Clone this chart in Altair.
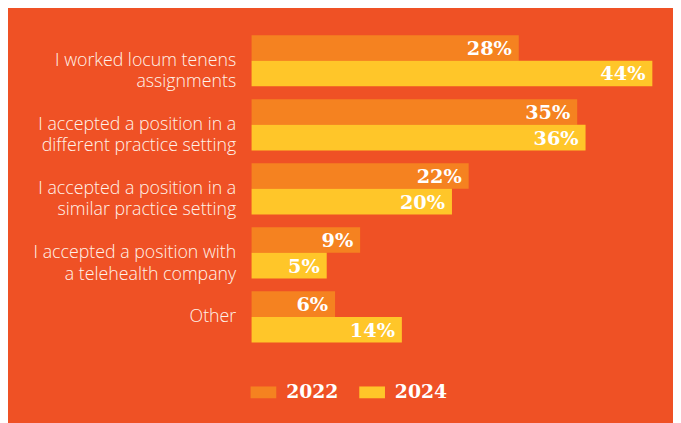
import altair as alt
import pandas as pd

categories = [
    "I worked locum tenens|assignments",
    "I accepted a position in a|different practice setting",
    "I accepted a position in a|similar practice setting",
    "I accepted a position with|a telehealth company",
    "Other",
]
years = ["2022", "2024"]
values_2022 = [28, 35, 22, 9, 6]
values_2024 = [44, 36, 20, 5, 14]

rows = []
for c, a, b in zip(categories, values_2022, values_2024):
    rows.append({"category": c, "year": "2022", "value": a, "label": f"{a}%"})
    rows.append({"category": c, "year": "2024", "value": b, "label": f"{b}%"})
df = pd.DataFrame(rows)

BG = "#EF5125"
C22 = "#F58220"
C24 = "#FFC629"

xscale = alt.Scale(domain=[-4, 46], zero=False, nice=False)
yscale = alt.Scale(paddingInner=0.2, paddingOuter=0.1)
yoff = alt.YOffset("year:N", scale=alt.Scale(domain=years, paddingInner=0, paddingOuter=0))

base = alt.Chart(df).encode(
    y=alt.Y(
        "category:N",
        sort=categories,
        scale=yscale,
        axis=alt.Axis(
            title=None,
            domain=False,
            ticks=False,
            labelPadding=16,
            labelFont="Open Sans",
            labelFontWeight=300,
            labelFontSize=18,
            labelColor="#FFF3EA",
            labelLineHeight=22,
            labelLimit=400,
            labelExpr="split(datum.label, '|')",
        ),
    ),
    yOffset=yoff,
)

bars = base.mark_bar().encode(
    x=alt.X("value:Q", scale=xscale, axis=None),
    x2=alt.datum(-4),
    color=alt.Color(
        "year:N",
        scale=alt.Scale(domain=years, range=[C22, C24]),
        legend=alt.Legend(
            title=None,
            orient="none",
            direction="horizontal",
            legendX=-1,
            legendY=355,
            symbolType="M-1,-0.46H1V0.46H-1Z",
            symbolSize=676,
            symbolStrokeWidth=0,
            symbolOpacity=1,
            labelFont="DejaVu Serif",
            labelFontWeight="bold",
            labelFontSize=19,
            labelColor="#FFFFFF",
            labelOffset=10,
            columnPadding=21,
        ),
    ),
)

labels = base.mark_text(
    align="right",
    baseline="middle",
    dx=-7,
    dy=1,
    font="DejaVu Serif",
    fontWeight="bold",
    fontSize=19.5,
    color="#FFFFFF",
).encode(
    x=alt.X("value:Q", scale=xscale),
    text="label:N",
)

chart = (
    alt.layer(bars, labels)
    .properties(
        width=422.5,
        height=324,
        background=BG,
        padding={"left": 246.5, "top": 18.5, "right": 4, "bottom": 72.5},
        autosize=alt.AutoSizeParams(type="none"),
    )
    .configure_view(stroke=None)
)

chart.save("out.html", embed_options={"renderer": "svg", "actions": False})
